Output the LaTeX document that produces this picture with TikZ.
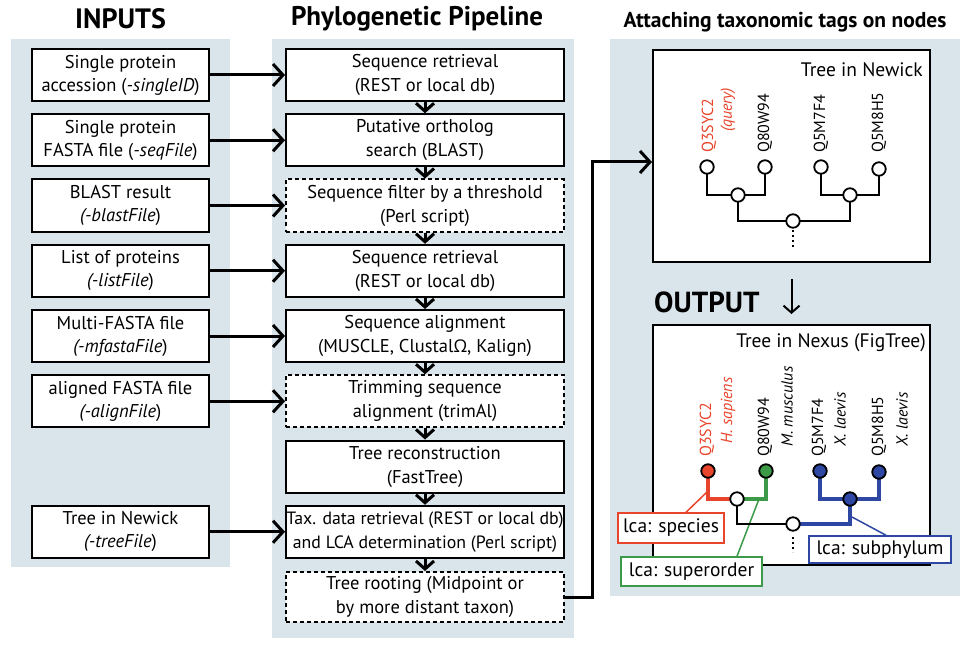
\documentclass[tikz,border=0pt]{standalone}
\usepackage{fontspec}
\setmainfont{PT Sans}
\newfontfamily\gkfont{Open Sans}
\usetikzlibrary{arrows.meta}
\definecolor{panelbg}{HTML}{DAE4EB}
\definecolor{tred}{HTML}{E8452C}
\definecolor{tgreen}{HTML}{3C9A48}
\definecolor{tblue}{HTML}{2D47A3}
\tikzset{
  panel/.style={fill=panelbg, draw=none},
  inbox/.style={draw, line width=2pt, fill=white, minimum width=177pt, minimum height=52pt, inner sep=0pt, align=center, font=\fontsize{18.5}{23}\selectfont},
  pbox/.style={inbox, minimum width=278pt, font=\fontsize{18.5}{24}\selectfont},
  optbox/.style={pbox, dash pattern=on 4pt off 3pt},
  bigarr/.style={line width=3pt, -{Straight Barb[length=10pt,width=22pt]}},
  downarr/.style={line width=3pt, -{Straight Barb[length=8pt,width=18pt]}},
  title/.style={font=\fontsize{27}{30}\selectfont\bfseries, inner sep=0pt},
  treebox/.style={draw, line width=2pt, fill=white, minimum width=277pt, inner sep=0pt},
  leaf/.style={circle, draw, line width=1.8pt, fill=white, minimum size=13.5pt, inner sep=0pt},
  tlab/.style={rotate=90, anchor=west, inner sep=0pt, font=\fontsize{16}{18}\selectfont},
  branch/.style={line width=1.8pt},
  cbranch/.style={line width=4pt},
  rootdots/.style={line width=2pt, dash pattern=on 2pt off 3pt},
  lcabox/.style={draw, line width=1.5pt, fill=white, inner sep=0pt, font=\fontsize{19.5}{21}\selectfont},
  leader/.style={line width=1.5pt},
  boxlabel/.style={anchor=east, inner sep=0pt, font=\fontsize{19.5}{21}\selectfont},
}
\begin{document}
\begin{tikzpicture}[x=1pt,y=-1pt]
\useasboundingbox (0,0) rectangle (968,647);
% panels
\fill[panel] (11,39) rectangle (230,567);
\fill[panel] (272,39) rectangle (574,638);
\fill[panel] (610,39) rectangle (960,596);
% titles
\node[title, font=\fontsize{28}{30}\selectfont\bfseries] (tin) at (120.5,19) {INPUTS};
\node[title] (tpp) at (417,19) {Phylogenetic Pipeline};
\node[font=\fontsize{21.5}{24}\selectfont\bfseries, inner sep=0pt] (tat) at (785,22) {Attaching taxonomic tags on nodes};
% inputs
\node[inbox] (i1) at (120.5,75) {Single protein\\accession (\textit{-singleID})};
\node[inbox] (i2) at (120.5,140.25) {Single protein\\FASTA file (\textit{-seqFile})};
\node[inbox] (i3) at (120.5,205.5) {BLAST result\\\textit{(-blastFile})};
\node[inbox] (i4) at (120.5,270.75) {List of proteins\\\textit{(-listFile})};
\node[inbox] (i5) at (120.5,336) {Multi-FASTA file\\\textit{(-mfastaFile})};
\node[inbox] (i6) at (120.5,401.25) {aligned FASTA file\\\textit{(-alignFile})};
\node[inbox] (i7) at (120.5,531.75) {Tree in Newick\\\textit{(-treeFile})};
% pipeline
\node[pbox] (p1) at (425,75) {Sequence retrieval\\(REST or local db)};
\node[pbox] (p2) at (425,140.25) {Putative ortholog\\search (BLAST)};
\node[optbox] (p3) at (425,205.5) {Sequence filter by a threshold\\(Perl script)};
\node[pbox] (p4) at (425,270.75) {Sequence retrieval\\(REST or local db)};
\node[pbox] (p5) at (425,336) {Sequence alignment\\(MUSCLE, Clustal{\gkfont\fontsize{17.5}{20}\selectfont Ω}, Kalign)};
\node[optbox] (p6) at (425,401.25) {Trimming sequence\\alignment (trimAl)};
\node[pbox] (p7) at (425,466.5) {Tree reconstruction\\(FastTree)};
\node[pbox, font=\fontsize{17.8}{24}\selectfont] (p8) at (425,531.75) {Tax. data retrieval (REST or local db)\\and LCA determination (Perl script)};
\node[optbox, minimum height=50pt] (p9) at (425,597) {Tree rooting (Midpoint or\\by more distant taxon)};
% input arrows
\draw[bigarr] (i1) -- (p1);
\draw[bigarr] (i2) -- (p2);
\draw[bigarr] (i3) -- (p3);
\draw[bigarr] (i4) -- (p4);
\draw[bigarr] (i5) -- (p5);
\draw[bigarr] (i6) -- (p6);
\draw[bigarr] (i7) -- (p8);
% pipeline arrows
\draw[downarr] (p1) -- (p2);
\draw[downarr] (p2) -- (p3);
\draw[downarr] (p3) -- (p4);
\draw[downarr] (p4) -- (p5);
\draw[downarr] (p5) -- (p6);
\draw[downarr] (p6) -- (p7);
\draw[downarr] (p7) -- (p8);
\draw[downarr] (p8) -- (p9);
% right: newick tree box
\node[treebox, minimum height=212pt] (newick) at (791.5,156) {};
\node[boxlabel] (nwlab) at (923,70) {Tree in Newick};
\draw[bigarr] (p9.east) -| ([xshift=-60pt,yshift=-6pt]newick.west) -- ([yshift=-6pt]newick.west);
\coordinate (nL1) at (707,167);
\coordinate (nL2) at (765,167);
\coordinate (nL3) at (821,167);
\coordinate (nL4) at (879,169);
\coordinate (nA) at (738,195);
\coordinate (nB) at (850,195);
\coordinate (nR) at (793,221);
\draw[branch] (nL1) |- (nA) -| (nL2);
\draw[branch] (nL3) |- (nB) -| (nL4);
\draw[branch] (nA) |- (nR) -| (nB);
\draw[rootdots] ([yshift=-9pt]nR) -- ([yshift=-28pt]nR);
\node[leaf] (nL1c) at (nL1) {};
\node[leaf] (nL2c) at (nL2) {};
\node[leaf] (nL3c) at (nL3) {};
\node[leaf] (nL4c) at (nL4) {};
\node[leaf] (nAc) at (nA) {};
\node[leaf] (nBc) at (nB) {};
\node[leaf] (nRc) at (nR) {};
\node[tlab, text=tred] (nq1) at (709,153) {Q3SYC2};
\node[tlab, text=tred] (nq1b) at (728,132) {\textit{(query)}};
\node[tlab] (nq2) at (765,153) {Q80W94};
\node[tlab] (nq3) at (821,153) {Q5M7F4};
\node[tlab] (nq4) at (879,153) {Q5M8H5};
% output
\node[title, font=\fontsize{29}{30}\selectfont\bfseries, anchor=west] (outlbl) at (654,302) {OUTPUT};
\node[treebox, minimum height=240pt] (nexus) at (791.5,445) {};
\draw[line width=2pt, -{Straight Barb[length=7pt,width=16pt]}, shorten <=16pt, shorten >=10pt] (newick.south) -- (nexus.north);
\node[boxlabel] (nxlab) at (926,343) {Tree in Nexus (FigTree)};
\coordinate (xL1) at (708,471);
\coordinate (xL2) at (766,471);
\coordinate (xL3) at (820,471);
\coordinate (xL4) at (879,472);
\coordinate (xA) at (737,499);
\coordinate (xB) at (850,499);
\coordinate (xR) at (793,524);
\coordinate (csp) at (707,492);
\coordinate (cso) at (759,499);
\coordinate (csu) at (852,517);
% lca labels and leaders
\node[lcabox, draw=tred, minimum width=106pt, minimum height=30pt] (lsp) at (671,528) {lca: species};
\node[lcabox, draw=tgreen, minimum width=141pt, minimum height=29pt] (lso) at (691.5,571.5) {lca: superorder};
\node[lcabox, draw=tblue, minimum width=142pt, minimum height=27pt] (lsu) at (880,549.5) {lca: subphylum};
\draw[leader, tred] ([xshift=15pt]lsp.north) -- (csp);
\draw[leader, tgreen] ([xshift=45.5pt]lso.north) -- (cso);
\draw[leader, tblue] ([xshift=6pt]lsu.north) -- (csu);
\draw[branch] (xA) |- (xR);
\draw[cbranch, tblue] (xB) |- (xR);
\draw[cbranch, tred] (xL1) |- (xA);
\draw[cbranch, tgreen] (xL2) |- (xA);
\draw[cbranch, tblue] (xL3) |- (xB) -| (xL4);
\draw[rootdots] ([yshift=-13pt]xR) -- ([yshift=-28pt]xR);
\node[leaf, fill=tred] (xL1c) at (xL1) {};
\node[leaf, fill=tgreen] (xL2c) at (xL2) {};
\node[leaf, fill=tblue] (xL3c) at (xL3) {};
\node[leaf, fill=tblue] (xL4c) at (xL4) {};
\node[leaf] (xAc) at (xA) {};
\node[leaf, fill=tblue] (xBc) at (xB) {};
\node[leaf] (xRc) at (xR) {};
\node[tlab, text=tred] (xq1) at (707,457) {Q3SYC2};
\node[tlab, text=tred] (xq1b) at (728,444) {\textit{H. sapiens}};
\node[tlab] (xq2) at (765,457) {Q80W94};
\node[tlab] (xq2b) at (787,447) {\textit{M. musculus}};
\node[tlab] (xq3) at (819,457) {Q5M7F4};
\node[tlab] (xq3b) at (840,447) {\textit{X. laevis}};
\node[tlab] (xq4) at (879,457) {Q5M8H5};
\node[tlab] (xq4b) at (902,447) {\textit{X. laevis}};
\end{tikzpicture}
\end{document}
